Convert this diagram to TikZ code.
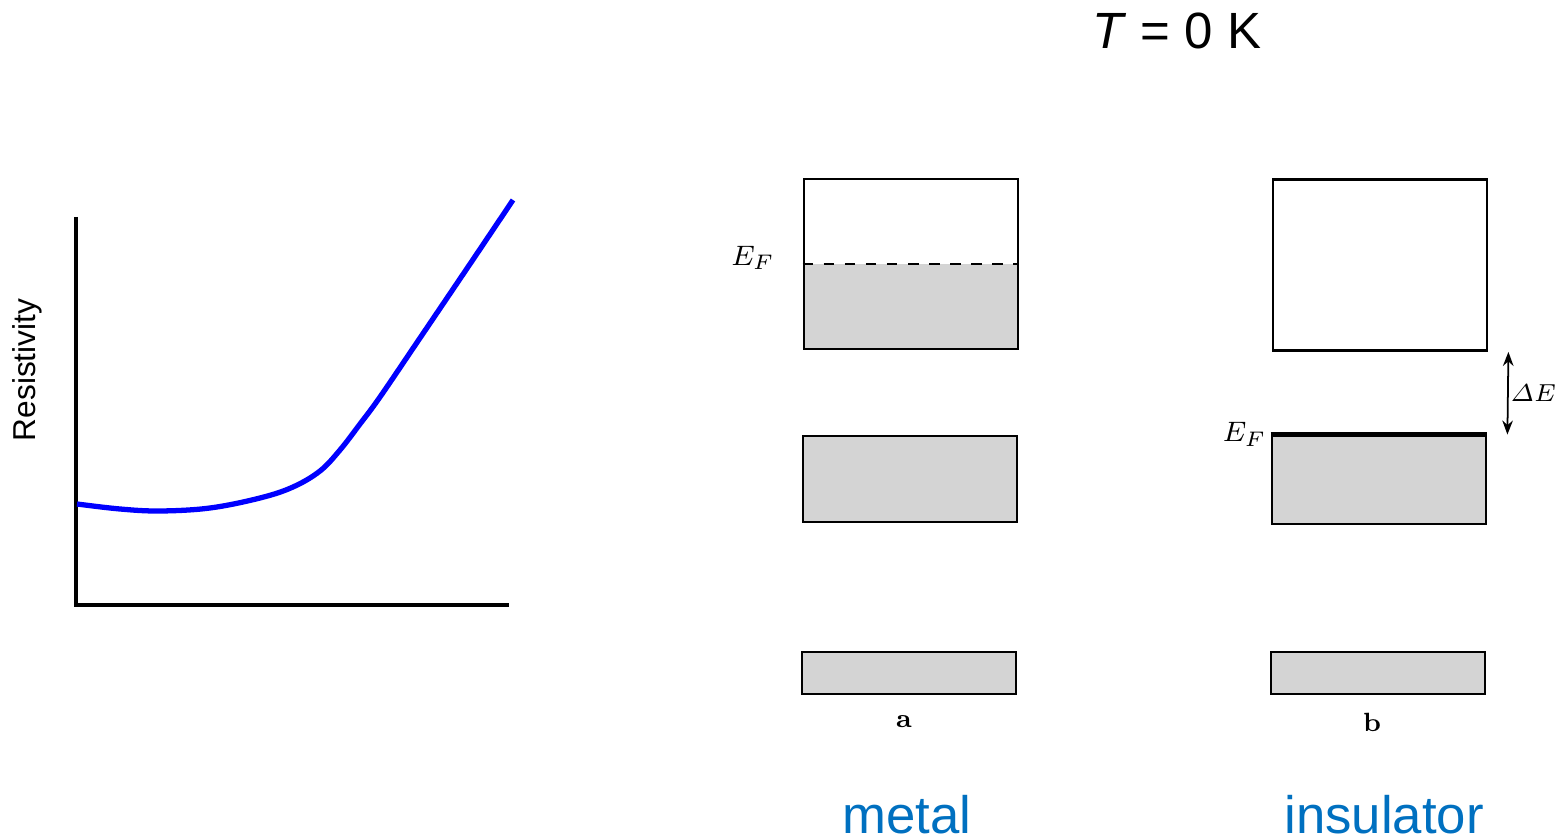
\documentclass[tikz,border=0pt]{standalone}
\usepackage{amsmath}
\usepackage{fontspec}
\newfontfamily\arialfont{Liberation Sans}
\usetikzlibrary{arrows.meta,positioning}
\definecolor{bandgray}{RGB}{212,212,212}
\definecolor{labelblue}{RGB}{0,112,192}

\begin{document}
\begin{tikzpicture}[x=0.1mm, y=-0.1mm,
    band/.style={draw, line width=0.8pt, fill=bandgray, inner sep=0pt, minimum width=2.14cm},
    empty/.style={band, fill=white},
    title/.style={font=\arialfont\fontsize{14.5}{16}\selectfont},
    kind/.style={font=\arialfont\fontsize{15}{17}\selectfont, text=labelblue, anchor=base},
    small/.style={font=\fontsize{8}{9}\selectfont, inner sep=1pt}]
\useasboundingbox (0,0) rectangle (1560,840);

% Resistivity sketch on the left
\coordinate (top)    at (76,217);
\coordinate (origin) at (76,605);
\coordinate (right)  at (509,605);
\draw[line width=0.9pt] (top) -- (origin) -- (right);
\node[font=\arialfont\fontsize{9}{10}\selectfont, rotate=90] (rho) at (27,370) {Resistivity};
\draw[blue, line width=1.5pt] plot[smooth, tension=0.6] coordinates {(77,504) (120,509) (160,511)
  (210,508) (260,498) (293,487) (320,471) (340,450) (360,424) (380,397) (420,338) (470,264) (513,200)};

\node[title] (temp) at (1177,31) {\textit{T} = 0 K};

% Metal: three bands, the upper one half filled
\node[empty, minimum height=1.70cm] (a3) at (911,264) {};
\node[band,  minimum height=0.86cm] (a2) at (910,479) {};
\node[band,  minimum height=0.42cm] (a1) at (909,673) {};
\coordinate (efa) at (911,264);
\fill[bandgray] ([shift={(0.4pt,0.4pt)}]a3.south west) rectangle ([xshift=-0.4pt]a3.east |- efa);
\draw[dashed, line width=0.6pt] (a3.west |- efa) -- (a3.east |- efa);
\node[band, fill=none, minimum height=1.70cm] at (a3) {};
\node[small] (efalabel) at (753,258) {$E_F$};
\node[small, font=\fontsize{7.5}{8}\selectfont\bfseries] (alabel) at (904,722) {a};
\node[kind] (metal) at (907,833) {metal};

% Insulator: empty upper band, full bands below, gap in between
\node[empty, minimum height=1.71cm] (b3) at (1380,265) {};
\node[band,  minimum height=0.88cm] (b2) at (1379,480) {};
\node[band,  minimum height=0.42cm] (b1) at (1378,673) {};
\draw[line width=1.5pt] (b2.north west) -- (b2.north east);
\node[small, left=0pt of b2.north west] (eflabel) {$E_F$};
\draw[{Stealth[length=4pt]}-{Stealth[length=4pt]}, line width=0.5pt]
  ([xshift=2mm]b3.south east) -- ([xshift=2mm]b2.north east)
  node[midway, small, font=\fontsize{7}{8}\selectfont, inner sep=0.5pt, right=0pt] (gap) {$\varDelta E$};
\node[small, font=\fontsize{7.5}{8}\selectfont\bfseries] (blabel) at (1372,722) {b};
\node[kind] (insulator) at (1384,833) {insulator};

\end{tikzpicture}
\end{document}
